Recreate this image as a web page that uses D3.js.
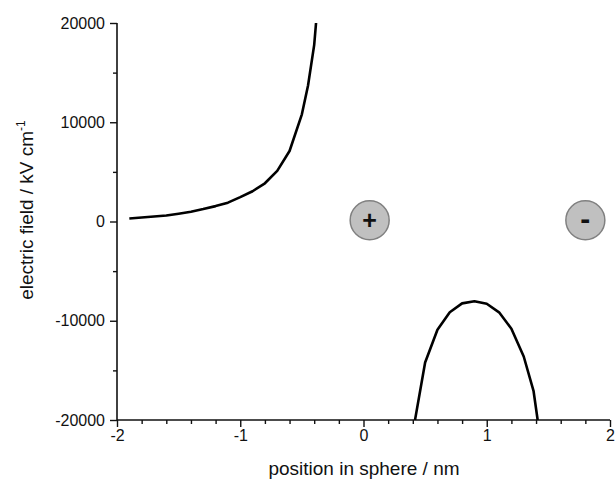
<!DOCTYPE html>
<html>
<head>
<meta charset="utf-8">
<script src="https://cdn.jsdelivr.net/npm/d3@7"></script>
<style>
  html, body { margin: 0; padding: 0; background: #fff; }
  svg { display: block; }
  text { font-family: "Liberation Sans", Arial, sans-serif; fill: #111; }
</style>
</head>
<body>
<svg id="chart" width="615" height="479"></svg>
<script>
// ---- data ----
const leftX = [-1.9, -1.8, -1.7, -1.6, -1.5, -1.4, -1.3, -1.2, -1.1, -1.0, -0.9, -0.8, -0.7, -0.6, -0.5, -0.45, -0.4, -0.385];
const leftY = [300, 400, 500, 600, 780, 980, 1250, 1550, 1900, 2450, 3050, 3850, 5100, 7100, 10800, 13700, 17800, 20000];

const rightX = [0.418, 0.5, 0.6, 0.7, 0.8, 0.9, 1.0, 1.1, 1.2, 1.3, 1.38, 1.413];
const rightY = [-20000, -14200, -10900, -9150, -8250, -8030, -8290, -9150, -10800, -13600, -17100, -20000];

const chargeX = [0.05, 1.8];
const chargeY = [130, 130];
const chargeSign = ["+", "-"];

const xMajorTicks = [-2, -1, 0, 1, 2];
const xMinorTicks = [-1.8, -1.6, -1.4, -1.2, -0.8, -0.6, -0.4, -0.2, 0.2, 0.4, 0.6, 0.8, 1.2, 1.4, 1.6, 1.8];
const yMajorTicks = [-20000, -10000, 0, 10000, 20000];
const yMinorTicks = [-15000, -5000, 5000, 15000];

const xTitle = "position in sphere / nm";
const yTitle = "electric field / kV cm";
const yTitleSup = "-1";

// ---- layout ----
const svg = d3.select("#chart");
const x = d3.scaleLinear().domain([-2, 2]).range([117, 610]);
const y = d3.scaleLinear().domain([-20000, 20000]).range([420, 23]);

svg.append("defs").append("clipPath").attr("id", "clip")
  .append("rect").attr("x", 117).attr("y", 23).attr("width", 493).attr("height", 397);

const fmt = d => d < 0 ? "-" + Math.abs(d) : String(d);
const xAxisMajor = d3.axisBottom(x).tickValues(xMajorTicks).tickSize(7).tickPadding(3).tickFormat(fmt);
const xAxisMinor = d3.axisBottom(x).tickValues(xMinorTicks).tickSize(4).tickFormat("");
const yAxisMajor = d3.axisLeft(y).tickValues(yMajorTicks).tickSize(7).tickPadding(5).tickFormat(fmt);
const yAxisMinor = d3.axisLeft(y).tickValues(yMinorTicks).tickSize(4).tickFormat("");

function styleAxis(g) {
  g.select(".domain").attr("stroke", "#111").attr("stroke-width", 1.6);
  g.selectAll(".tick line").attr("stroke", "#111").attr("stroke-width", 1.4);
  g.selectAll(".tick text").attr("font-size", 16).attr("fill", "#111")
    .attr("font-family", '"Liberation Sans", Arial, sans-serif');
}

svg.append("g").attr("transform", "translate(0,420)").call(xAxisMinor).call(styleAxis)
  .select(".domain").remove();
svg.append("g").attr("transform", "translate(117,0)").call(yAxisMinor).call(styleAxis)
  .select(".domain").remove();
svg.append("g").attr("transform", "translate(0,420)").call(xAxisMajor).call(styleAxis)
  .call(g => g.select(".domain").attr("d", `M${x(-2)},0H${x(2)}`));
svg.append("g").attr("transform", "translate(117,0)").call(yAxisMajor).call(styleAxis)
  .call(g => g.select(".domain").attr("d", `M0,${y(20000)}V${y(-20000)}`));

// curves
const line = d3.line().x(d => x(d[0])).y(d => y(d[1]));
const plot = svg.append("g").attr("clip-path", "url(#clip)");
plot.append("path").datum(leftX.map((v, i) => [v, leftY[i]]))
  .attr("d", line).attr("fill", "none").attr("stroke", "#000").attr("stroke-width", 2.6)
  .attr("stroke-linejoin", "round");
plot.append("path").datum(rightX.map((v, i) => [v, rightY[i]]))
  .attr("d", line).attr("fill", "none").attr("stroke", "#000").attr("stroke-width", 2.6)
  .attr("stroke-linejoin", "round");

// charges
const charges = chargeX.map((v, i) => ({ x: v, y: chargeY[i], s: chargeSign[i] }));
const cg = svg.append("g").selectAll("g").data(charges).join("g")
  .attr("transform", d => `translate(${x(d.x)},${y(d.y)})`);
cg.append("circle").attr("r", 19.5).attr("fill", "#c0c0c0").attr("stroke", "#808080").attr("stroke-width", 1.5);
cg.append("text").text(d => d.s)
  .attr("text-anchor", "middle")
  .attr("font-weight", "bold")
  .attr("font-size", d => d.s === "+" ? 25 : 30)
  .attr("dy", d => d.s === "+" ? 8.5 : 8.5)
  .attr("fill", "#000")
  .style("font-family", '"Liberation Sans", Arial, sans-serif');

// titles
svg.append("text").attr("x", 364).attr("y", 475).attr("text-anchor", "middle")
  .attr("font-size", 19).text(xTitle);
const yt = svg.append("text").attr("transform", "translate(33,210) rotate(-90)")
  .attr("text-anchor", "middle").attr("font-size", 19);
yt.append("tspan").text(yTitle);
yt.append("tspan").attr("dy", -8).attr("font-size", 12).text(yTitleSup);
</script>
</body>
</html>
